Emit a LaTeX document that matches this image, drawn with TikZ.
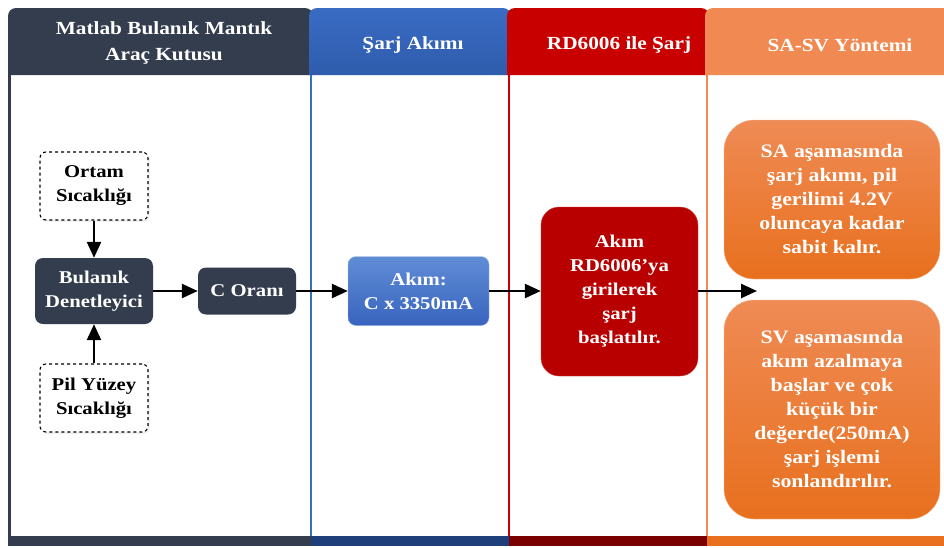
\documentclass[tikz,border=0pt]{standalone}
\usepackage{fontspec}
\setmainfont{Liberation Serif}[FakeStretch=1.15]
\usetikzlibrary{arrows.meta,shadows}
\definecolor{navyhead}{RGB}{51,61,78}
\definecolor{bluehead}{RGB}{47,92,172}
\definecolor{bluetop}{RGB}{58,108,196}
\definecolor{blueline}{RGB}{46,117,182}
\definecolor{bluebar}{RGB}{31,63,122}
\definecolor{boxbluetop}{RGB}{96,140,214}
\definecolor{boxbluebot}{RGB}{56,100,190}
\definecolor{redhead}{RGB}{200,0,0}
\definecolor{redbar}{RGB}{122,0,0}
\definecolor{redfill}{RGB}{184,0,0}
\definecolor{orangehead}{RGB}{240,138,82}
\definecolor{orangetop}{RGB}{239,139,85}
\definecolor{orangefill}{RGB}{232,112,30}
\definecolor{orangebar}{RGB}{232,112,30}

\begin{document}
\begin{tikzpicture}[x=1pt, y=-1pt,
    every node/.style={font=\bfseries\fontsize{18}{24}\selectfont, align=center},
    headtext/.style={text=white, font=\bfseries\fontsize{18.5}{26}\selectfont},
    tab/.style={rounded corners=8pt},
    dashbox/.style={rectangle, rounded corners=6pt, draw=black, dashed, line width=1.1pt, fill=white,
        minimum width=108pt, minimum height=68pt,
        drop shadow={opacity=0.15, shadow xshift=1.5pt, shadow yshift=-1.5pt, draw=none}},
    darkbox/.style={rectangle, rounded corners=8pt, fill=navyhead, text=white},
    bluebox/.style={rectangle, rounded corners=8pt, draw=boxbluetop!60!white, top color=boxbluetop,
        bottom color=boxbluebot, text=white, minimum width=141pt, minimum height=69pt},
    redbox/.style={rectangle, rounded corners=18pt, draw=redfill!70!white, fill=redfill, text=white,
        minimum width=157pt, minimum height=169pt},
    orangebox/.style={rectangle, rounded corners=30pt, draw=orangehead!60!white,
        top color=orangetop, bottom color=orangefill, text=white,
        minimum width=216pt, font=\bfseries\fontsize{19}{24}\selectfont},
    flow/.style={-{Triangle[length=16pt,width=14pt]}, line width=2.5pt, black}]
    \useasboundingbox (0,0) rectangle (944,547);
    \fill[white] (0,0) rectangle (944,547);
    % column headers
    \fill[navyhead, tab] (8,75) -- (8,8) -- (313,8) -- (313,75);
    \shade[top color=bluetop, bottom color=bluehead, tab] (309,75) -- (309,8) -- (511,8) -- (511,75);
    \fill[redhead, tab] (507,75) -- (507,8) -- (709,8) -- (709,75);
    \fill[orangehead, tab] (705,75) -- (705,8) -- (960,8) -- (960,75);
    \node[headtext] (hfuzzy) at (164,43) {Matlab Bulanık Mantık\\Araç Kutusu};
    \node[headtext] (hcurrent) at (413,45) {Şarj Akımı};
    \node[headtext] (hrd) at (619,45) {RD6006 ile Şarj};
    \node[headtext] (hmethod) at (840,45) {SA-SV Yöntemi};
    % column lines and bottom bar
    \draw[navyhead, line width=3pt] (9.5,75) -- (9.5,537);
    \draw[blueline, line width=2pt] (311,75) -- (311,537);
    \draw[redhead, line width=2pt] (509,75) -- (509,537);
    \draw[orangehead, line width=2pt] (707,75) -- (707,537);
    \fill[navyhead] (8,536) rectangle (311,546);
    \fill[bluebar] (311,536) rectangle (509,546);
    \fill[redbar] (509,536) rectangle (707,546);
    \fill[orangebar] (707,536) rectangle (944,546);
    % nodes
    \node[dashbox] (ortam) at (94,186) {Ortam\\Sıcaklığı};
    \node[darkbox, minimum width=118pt, minimum height=66pt] (fuzzy) at (94,291) {Bulanık\\Denetleyici};
    \node[dashbox] (pil) at (94,398) {Pil Yüzey\\Sıcaklığı};
    \node[darkbox, minimum width=98pt, minimum height=47pt] (coran) at (247,291) {C Oranı};
    \node[bluebox] (akim) at (418.5,291) {Akım:\\C x 3350mA};
    \node[redbox] (rd) at (619.5,291.5) {Akım\\RD6006’ya\\girilerek\\şarj\\başlatılır.};
    \node[orangebox, minimum height=159pt] (sa) at (832,199.5) {SA aşamasında\\şarj akımı, pil\\gerilimi 4.2V\\oluncaya kadar\\sabit kalır.};
    \node[orangebox, minimum height=219pt] (sv) at (832,409.5) {SV aşamasında\\akım azalmaya\\başlar ve çok\\küçük bir\\değerde(250mA)\\şarj işlemi\\sonlandırılır.};
    \coordinate (stage) at (757,291);
    % connectors
    \draw[flow] (ortam) -- (fuzzy);
    \draw[flow] (pil) -- (fuzzy);
    \draw[flow] (fuzzy) -- (coran);
    \draw[flow] (coran) -- (akim);
    \draw[flow] (akim.east) -- (rd.west |- akim.east);
    \draw[flow] (rd.east |- stage) -- (stage);
\end{tikzpicture}
\end{document}
